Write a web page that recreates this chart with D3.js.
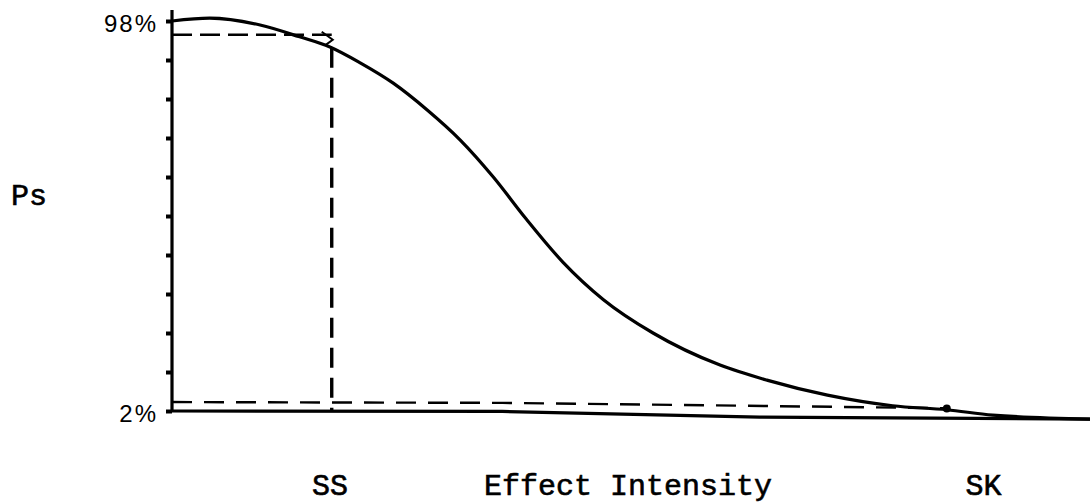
<!DOCTYPE html>
<html>
<head>
<meta charset="utf-8">
<script src="https://cdn.jsdelivr.net/npm/d3@7"></script>
<style>
  body { margin: 0; background: #fff; }
  svg { display: block; }
</style>
</head>
<body>
<div id="chart"></div>
<script>
// Curve: x is effect intensity (0-100), y is Ps in %.
const curveX = [0, 4.1, 9.6, 13.9, 17.2, 20.5, 24.1, 27.8, 31.4, 35.0, 38.5,
  42.6, 47.0, 52.4, 59.7, 64.8, 71.4, 78.5, 84.4, 89.4, 100];
const curveY = [98.0, 98.7, 97.0, 94.1, 91.6, 87.7, 82.7, 76.1, 68.7, 59.6, 49.5,
  38.6, 29.4, 21.2, 13.3, 9.6, 5.9, 3.3, 2.3, 1.0, 0.0];

// Hand drawn base line sags a bit towards the right.
const baseX = [0, 36, 64, 100];
const baseY = [2, 1.9, 0.5, 0];

// Dashed guide lines.
const ssX = 17.4;
const ssTopY = 94.6;
const ssCurveY = 91.4;
const lowDashX = [0, 36, 84.2];
const lowDashY = [4.2, 4.0, 2.7];
const skDot = { x: 84.4, y: 2.4 };

// Ticks and labels.
const yTicks = d3.range(11).map(i => 2 + 9.6 * i);
const yLabels = [{ v: 98, text: "98%" }, { v: 2, text: "2%" }];
const xLabels = [{ v: 17.2, text: "SS" }, { v: 88.4, text: "SK" }];
const xTitle = "Effect Intensity";
const yTitle = "Ps";

const width = 1090;
const height = 504;

const svg = d3.select("#chart").append("svg")
  .attr("width", width)
  .attr("height", height);

svg.append("rect").attr("width", width).attr("height", height).attr("fill", "#fff");

const x = d3.scaleLinear().domain([0, 100]).range([172, 1090]);
const y = d3.scaleLinear().domain([2, 98]).range([411, 21]);

const line = d3.line()
  .x(d => x(d[0]))
  .y(d => y(d[1]));

// y axis ticks (little nubs on the left side)
const yAxis = svg.append("g")
  .attr("transform", `translate(${x(0)},0)`)
  .call(d3.axisLeft(y).tickValues(yTicks).tickSize(6).tickFormat(""));
yAxis.select(".domain").remove();
yAxis.selectAll(".tick line").attr("stroke", "#000").attr("stroke-width", 4);

// y axis line, runs a little above the 98% tick
svg.append("line")
  .attr("x1", x(0)).attr("x2", x(0))
  .attr("y1", y(98) - 11).attr("y2", y(2))
  .attr("stroke", "#000").attr("stroke-width", 3.2);

// base line
svg.append("path")
  .attr("d", line(baseX.map((v, i) => [v, baseY[i]])))
  .attr("fill", "none").attr("stroke", "#000").attr("stroke-width", 3.2);

// dashed guides
svg.append("line")
  .attr("x1", x(0)).attr("x2", x(ssX))
  .attr("y1", y(ssTopY)).attr("y2", y(ssTopY))
  .attr("stroke", "#000").attr("stroke-width", 2.6)
  .attr("stroke-dasharray", "20,8");

// small arrow head where the top guide meets the curve
svg.append("path")
  .attr("d", `M${x(ssX) - 10},${y(ssTopY) - 3} L${x(ssX) + 1},${y(ssTopY) + 5} L${x(ssX) - 6},${y(ssTopY) + 10}`)
  .attr("fill", "none").attr("stroke", "#000").attr("stroke-width", 2);

svg.append("line")
  .attr("x1", x(ssX)).attr("x2", x(ssX))
  .attr("y1", y(ssCurveY)).attr("y2", y(2))
  .attr("stroke", "#000").attr("stroke-width", 3.4)
  .attr("stroke-dasharray", "20,10");

svg.append("path")
  .attr("d", line(lowDashX.map((v, i) => [v, lowDashY[i]])))
  .attr("fill", "none").attr("stroke", "#000").attr("stroke-width", 2.4)
  .attr("stroke-dasharray", "20,12");

// the curve
svg.append("path")
  .attr("d", d3.line().x(d => x(d[0])).y(d => y(d[1])).curve(d3.curveMonotoneX)(curveX.map((v, i) => [v, curveY[i]])))
  .attr("fill", "none").attr("stroke", "#000").attr("stroke-width", 3.2);

svg.append("circle")
  .attr("cx", x(skDot.x)).attr("cy", y(skDot.y) - 1)
  .attr("r", 4).attr("fill", "#000");

// labels
svg.selectAll(".ylab")
  .data(yLabels)
  .enter().append("text")
  .attr("class", "ylab")
  .attr("x", 158)
  .attr("y", d => y(d.v) + 3)
  .attr("dy", "0.35em")
  .attr("text-anchor", "end")
  .style("font-family", "'Liberation Sans', Arial, sans-serif")
  .style("font-size", "24px")
  .style("letter-spacing", "2px")
  .text(d => d.text);

const mono = "'Liberation Mono', 'Courier New', monospace";

svg.selectAll(".xlab")
  .data(xLabels)
  .enter().append("text")
  .attr("class", "xlab")
  .attr("x", d => x(d.v))
  .attr("y", 495)
  .attr("text-anchor", "middle")
  .style("font-family", mono)
  .style("font-size", "30px")
  .style("stroke", "#000").style("stroke-width", 0.6)
  .text(d => d.text);

svg.append("text")
  .attr("x", 484)
  .attr("y", 495)
  .style("font-family", mono)
  .style("font-size", "30px")
  .style("stroke", "#000").style("stroke-width", 0.6)
  .text(xTitle);

svg.append("text")
  .attr("x", 29)
  .attr("y", 205)
  .attr("text-anchor", "middle")
  .style("font-family", mono)
  .style("font-size", "30px")
  .style("stroke", "#000").style("stroke-width", 0.6)
  .text(yTitle);
</script>
</body>
</html>
